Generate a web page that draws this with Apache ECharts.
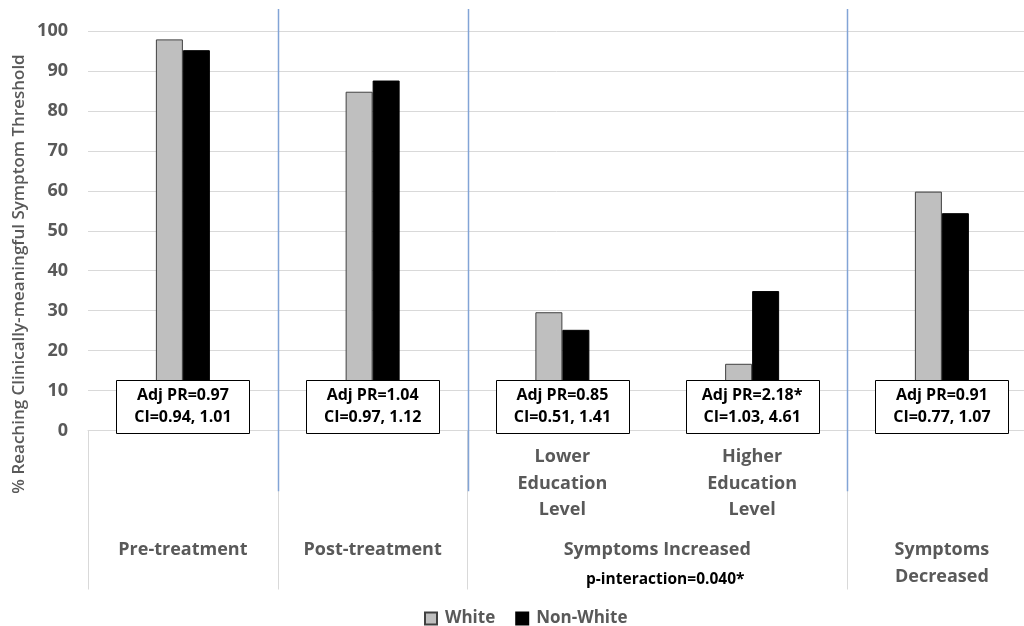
<!DOCTYPE html>
<html>
<head>
<meta charset="utf-8">
<style>
  html, body { margin: 0; padding: 0; background: #fff; }
  #chart { width: 1024px; height: 626px; }
</style>
<script src="https://cdn.jsdelivr.net/npm/echarts@6/dist/echarts.min.js"></script>
</head>
<body>
<div id="chart"></div>
<script>
// Categories along the x axis
const categories = ['Pre-treatment', 'Post-treatment', 'Lower Education Level', 'Higher Education Level', 'Symptoms Decreased'];
// Labels on the inner (education) row and on the outer (group) row
const innerLabels = ['', '', 'Lower\nEducation\nLevel', 'Higher\nEducation\nLevel', ''];
const outerLabels = ['Pre-treatment', 'Post-treatment', '', '', 'Symptoms\nDecreased'];
const spanLabel = 'Symptoms Increased';
const spanNote = 'p-interaction=0.040*';
// Span label sits at this category boundary (between the two education bars)
const spanAt = 3;
// Category boundaries that get a blue separator
const separators = [1, 2, 4];

// % reaching the threshold
const whiteValues = [97.9, 84.8, 29.6, 16.7, 59.8];
const nonWhiteValues = [95.2, 87.6, 25.2, 34.9, 54.4];

// Adjusted prevalence ratios and confidence intervals
const adjPR = ['0.97', '1.04', '0.85', '2.18*', '0.91'];
const ciText = ['0.94, 1.01', '0.97, 1.12', '0.51, 1.41', '1.03, 4.61', '0.77, 1.07'];

const yTicks = { min: 0, max: 100, interval: 10 };

const GRAY = '#595959';
const FONT = '"Open Sans", "DejaVu Sans", sans-serif';

const chart = echarts.init(document.getElementById('chart'));

const option = {
  animation: false,
  backgroundColor: '#fff',
  textStyle: { fontFamily: FONT },
  // The last category runs past the right edge of the canvas
  grid: { left: 88, width: 948.75, top: 31, height: 399.5, containLabel: false, outerBoundsMode: 'none' },
  legend: {
    top: 605,
    left: 419,
    itemWidth: 12,
    itemHeight: 12,
    itemGap: 20,
    icon: 'rect',
    textStyle: { fontFamily: FONT, fontSize: 17, fontWeight: 'bold', color: GRAY, padding: [0, 0, 0, 3] },
    data: ['White', 'Non-White']
  },
  xAxis: [
    {
      type: 'category',
      data: categories,
      position: 'bottom',
      axisLine: { show: true, lineStyle: { color: '#d9d9d9', width: 1 } },
      axisTick: {
        show: true,
        length: 159,
        lineStyle: { color: '#d9d9d9', width: 1 },
        interval: function (idx) { return idx !== spanAt; }
      },
      axisLabel: {
        interval: 0,
        margin: 13.5,
        formatter: function (v, i) { return innerLabels[i]; },
        fontFamily: FONT, fontSize: 18, fontWeight: 'bold', color: GRAY, lineHeight: 26.5
      },
      splitLine: { show: false }
    },
    {
      type: 'category',
      data: categories,
      position: 'bottom',
      axisLine: { show: false },
      axisTick: { show: false },
      axisLabel: {
        interval: 0,
        margin: 106.5,
        formatter: function (v, i) { return outerLabels[i]; },
        fontFamily: FONT, fontSize: 18, fontWeight: 'bold', color: GRAY, lineHeight: 26.5
      },
      splitLine: { show: false }
    },
    {
      type: 'value',
      min: 0,
      max: categories.length,
      interval: 1,
      position: 'bottom',
      axisLine: { show: false },
      axisTick: { show: false },
      splitLine: { show: false },
      axisLabel: {
        margin: 106.5,
        showMinLabel: true,
        showMaxLabel: true,
        formatter: function (v) {
          return v === spanAt ? '{g|' + spanLabel + '}\n{p|' + spanNote + '}' : '';
        },
        rich: {
          g: { fontFamily: FONT, fontSize: 18, fontWeight: 'bold', color: GRAY, lineHeight: 26 },
          p: { fontFamily: FONT, fontSize: 15.5, fontWeight: 'bold', color: '#000', lineHeight: 34, padding: [0, 0, 0, 16] }
        }
      }
    }
  ],
  yAxis: {
    type: 'value',
    min: yTicks.min,
    max: yTicks.max,
    interval: yTicks.interval,
    axisLine: { show: false },
    axisTick: { show: false },
    axisLabel: { margin: 20, fontFamily: FONT, fontSize: 18, fontWeight: 'bold', color: GRAY },
    splitLine: { lineStyle: { color: '#d9d9d9', width: 1 } }
  },
  series: [
    {
      name: 'White',
      type: 'bar',
      xAxisIndex: 0,
      data: whiteValues,
      barWidth: 27,
      barGap: '0%',
      itemStyle: { color: '#bfbfbf', borderColor: '#404040', borderWidth: 1 }
    },
    {
      name: 'Non-White',
      type: 'bar',
      xAxisIndex: 0,
      data: nonWhiteValues,
      barWidth: 27,
      barGap: '0%',
      itemStyle: { color: '#000000', borderColor: '#000000', borderWidth: 1 }
    },
    {
      // Boxed ratio annotations anchored near the foot of each category
      name: 'ratios',
      type: 'custom',
      xAxisIndex: 0,
      z: 10,
      silent: true,
      data: categories.map(function (c, i) { return [i, 6]; }),
      renderItem: function (params, api) {
        const i = params.dataIndex;
        const pt = api.coord([api.value(0), api.value(1)]);
        const w = 133, h = 53;
        return {
          type: 'group',
          children: [
            {
              type: 'rect',
              shape: { x: Math.round(pt[0] - w / 2) + 0.5, y: Math.round(pt[1] - h / 2) + 0.5, width: w, height: h },
              style: { fill: '#ffffff', stroke: '#000000', lineWidth: 1 }
            },
            {
              type: 'text',
              x: pt[0],
              y: pt[1],
              style: {
                text: 'Adj PR=' + adjPR[i] + '\nCI=' + ciText[i],
                fontFamily: FONT,
                fontSize: 16,
                fontWeight: 'bold',
                fill: '#000',
                lineHeight: 22,
                align: 'center',
                verticalAlign: 'middle'
              }
            }
          ]
        };
      }
    }
  ]
};

chart.setOption(option);

// Blue separators between the groups and the rotated y-axis title
const sepTop = chart.convertToPixel({ yAxisIndex: 0 }, 105.5);
const sepBottom = chart.convertToPixel({ yAxisIndex: 0 }, -15.2);
const graphics = separators.map(function (b) {
  const x = Math.round(chart.convertToPixel({ xAxisIndex: 2 }, b)) + 0.5;
  return {
    type: 'line',
    silent: true,
    z: 1,
    shape: { x1: x, y1: sepTop, x2: x, y2: sepBottom },
    style: { stroke: '#82a4d6', lineWidth: 1.5 }
  };
});
graphics.push({
  type: 'text',
  x: 19.5,
  y: 274,
  rotation: Math.PI / 2,
  style: {
    text: '% Reaching Clinically-meaningful Symptom Threshold',
    fontFamily: FONT,
    fontSize: 17,
    fontWeight: 600,
    fill: GRAY,
    align: 'center',
    verticalAlign: 'middle'
  }
});
chart.setOption({ graphic: graphics });
</script>
</body>
</html>
